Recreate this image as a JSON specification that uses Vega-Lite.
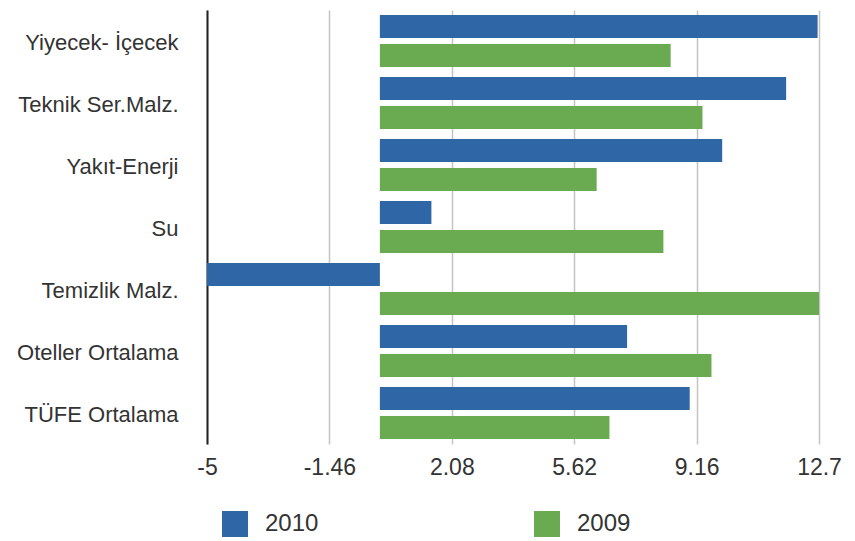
{
  "$schema": "https://vega.github.io/schema/vega-lite/v6.json",
  "width": 612,
  "height": 434,
  "autosize": {"type": "none"},
  "padding": {"left": 207, "top": 10, "right": 36, "bottom": 97},
  "background": "white",
  "data": {
    "values": [
      {"category": "Yiyecek- İçecek", "year": "2010", "value": 12.66},
      {"category": "Yiyecek- İçecek", "year": "2009", "value": 8.41},
      {"category": "Teknik Ser.Malz.", "year": "2010", "value": 11.75},
      {"category": "Teknik Ser.Malz.", "year": "2009", "value": 9.33},
      {"category": "Yakıt-Enerji", "year": "2010", "value": 9.9},
      {"category": "Yakıt-Enerji", "year": "2009", "value": 6.27},
      {"category": "Su", "year": "2010", "value": 1.49},
      {"category": "Su", "year": "2009", "value": 8.2},
      {"category": "Temizlik Malz.", "year": "2010", "value": -5},
      {"category": "Temizlik Malz.", "year": "2009", "value": 12.7},
      {"category": "Oteller Ortalama", "year": "2010", "value": 7.15},
      {"category": "Oteller Ortalama", "year": "2009", "value": 9.59},
      {"category": "TÜFE Ortalama", "year": "2010", "value": 8.96},
      {"category": "TÜFE Ortalama", "year": "2009", "value": 6.64}
    ]
  },
  "mark": {"type": "bar"},
  "encoding": {
    "y": {
      "field": "category", "type": "nominal", "sort": null,
      "scale": {"paddingInner": 0.16, "paddingOuter": 0.08},
      "axis": {
        "title": null, "labelFontSize": 22, "labelFont": "Liberation Sans",
        "labelColor": "#333333", "labelPadding": 29, "labelOffset": 2, "ticks": false,
        "domainColor": "#222222", "domainWidth": 2, "labelLimit": 300
      }
    },
    "yOffset": {
      "field": "year", "type": "nominal", "sort": ["2010", "2009"],
      "scale": {"paddingInner": 0.207}
    },
    "x": {
      "field": "value", "type": "quantitative",
      "scale": {"domain": [-5, 12.7], "nice": false, "zero": false},
      "axis": {
        "title": null,
        "values": [-5, -1.46, 2.08, 5.62, 9.16, 12.7],
        "labelExpr": "'' + datum.value",
        "labelFlush": false, "labelOverlap": false,
        "domain": false, "ticks": false, "labelPadding": 12,
        "labelFontSize": 23, "labelFont": "Liberation Sans", "labelColor": "#333333",
        "gridColor": "#c4c4c4", "gridWidth": 1.5
      }
    },
    "color": {
      "field": "year", "type": "nominal", "sort": ["2010", "2009"],
      "scale": {"domain": ["2010", "2009"], "range": ["#2f66a6", "#6aab52"]},
      "legend": {
        "title": null, "orient": "none", "legendX": 15, "legendY": 501,
        "direction": "horizontal", "symbolType": "square", "symbolSize": 676,
        "symbolStrokeWidth": 0, "symbolOpacity": 1,
        "labelFontSize": 24, "labelFont": "Liberation Sans", "labelColor": "#333333",
        "labelOffset": 17, "columnPadding": 215
      }
    }
  },
  "config": {"view": {"stroke": null}}
}
